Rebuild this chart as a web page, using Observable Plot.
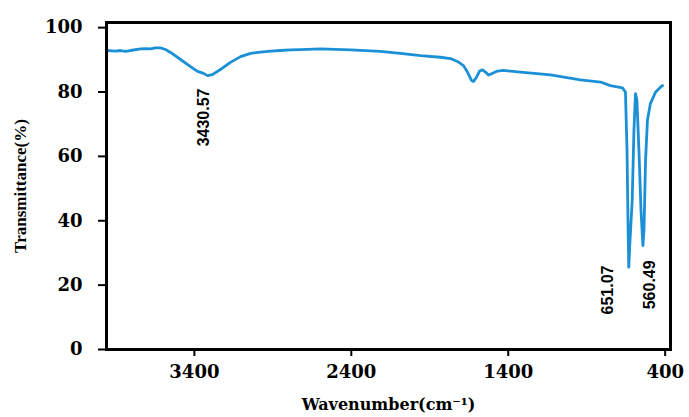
<!DOCTYPE html>
<html><head><meta charset="utf-8">
<script src="https://cdn.jsdelivr.net/npm/d3@7"></script>
<script src="https://cdn.jsdelivr.net/npm/@observablehq/plot@0.6"></script>
<style>
body{margin:0;background:#fff}
svg{display:block}
g[aria-label="y-axis label"] text{font-family:"Liberation Serif",serif;font-size:17px;font-weight:bold}
g[aria-label="x-axis label"] text{font-family:"DejaVu Serif",serif;font-size:16px;font-weight:bold}
</style></head><body><div id="chart"></div>
<script>
// FTIR spectrum (wavenumber cm^-1, transmittance %)
const wavenumber = [3960,3903,3871,3839,3807,3743,3711,3680,3648,3616,3584,3552,3488,3425,3380,3342,3316,3285,3234,3170,3106,3042,2979,2915,2851,2788,2724,2596,2405,2214,2087,1959,1832,1768,1717,1685,1660,1634,1621,1602,1583,1564,1545,1526,1500,1469,1430,1322,1131,940,812,749,672,653,643,637,632,624,610,599,589,580,567,554,542,535,525,513,494,462,430,417];
const transmittance = [92.9,92.7,92.9,92.6,92.9,93.4,93.5,93.4,93.7,93.7,93.2,92.3,90.1,87.9,86.4,85.8,85.1,85.4,87.0,89.2,91.0,92.0,92.4,92.7,92.9,93.1,93.2,93.4,93.1,92.6,92.0,91.3,90.8,90.4,89.3,88.2,86.2,83.6,83.3,84.6,86.5,86.9,86.2,85.3,85.8,86.5,86.7,86.2,85.3,83.8,83.1,82.0,81.3,79.9,61.8,40.1,25.6,33.9,46.3,68.0,79.5,77.4,61.8,43.2,32.3,37.0,58.7,71.2,76.4,79.9,81.5,82.0];
const xTicks = [3400,2400,1400,400];
const yTicks = [0,20,40,60,80,100];
const peakLabels = ["3430.57","651.07","560.49"];
const peakLabelWavenumber = [3342,764,497];
const peakLabelTransmittance = [81.1,26.1,27.7];

const spectrum = wavenumber.map((w,i)=>({wn:w, t:transmittance[i]}));
const peaks = peakLabels.map((s,i)=>({label:s, wn:peakLabelWavenumber[i], t:peakLabelTransmittance[i]}));

const chart = Plot.plot({
  width: 689, height: 417,
  marginLeft: 106, marginRight: 19, marginTop: 22, marginBottom: 68,
  style: {fontFamily: '"DejaVu Serif", serif', fontSize: "18px", fontWeight: "bold", color: "#000", background: "#fff", overflow: "visible"},
  x: {domain: [3960, 366]},
  y: {domain: [0, 101.6]},
  marks: [
    Plot.axisX(xTicks, {tickSize: 7, tickPadding: 9, tickFormat: "d", strokeWidth: 2, label: "Wavenumber(cm⁻¹)", labelAnchor: "center", labelOffset: 60, labelArrow: "none"}),
    Plot.axisY(yTicks, {tickSize: 8, tickPadding: 16, strokeWidth: 2, label: "Transmittance(%)", labelAnchor: "center", labelOffset: 93, labelArrow: "none"}),
    Plot.line(spectrum, {x: "wn", y: "t", stroke: "#1c90d6", strokeWidth: 2.8, strokeLinejoin: "round", strokeLinecap: "round"}),
    Plot.text(peaks, {x: "wn", y: "t", text: "label", rotate: -90, textAnchor: "end", fontFamily: '"Liberation Sans", Arial, sans-serif', fontSize: 16, fontWeight: "bold", fill: "#000"}),
    Plot.frame({stroke: "#000", strokeWidth: 3})
  ]
});
document.getElementById("chart").appendChild(chart);
</script></body></html>
